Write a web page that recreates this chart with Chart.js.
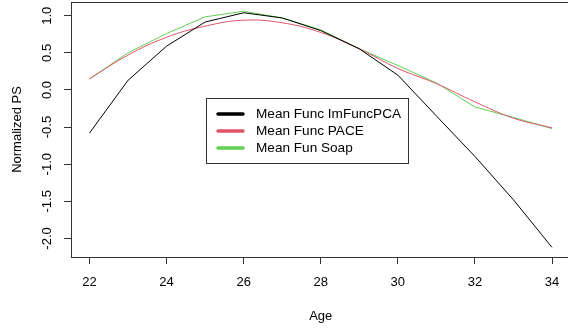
<!DOCTYPE html>
<html>
<head>
<meta charset="utf-8">
<script src="https://cdn.jsdelivr.net/npm/chart.js@4.4.1/dist/chart.umd.min.js"></script>
<style>
  html, body { margin: 0; padding: 0; background: #fff; overflow: hidden; }
  #wrap { width: 572px; height: 330px; }
</style>
</head>
<body>
<div id="wrap"><canvas id="chart" width="572" height="330"></canvas></div>
<script>
const ages = [22, 23, 24, 25, 26, 27, 28, 29, 30, 31, 32, 33, 34];
const imFuncPCA = [-0.58, 0.13, 0.59, 0.915, 1.04, 0.97, 0.80, 0.555, 0.20, -0.35, -0.895, -1.48, -2.12];
const pace = [0.15, 0.47, 0.71, 0.86, 0.94, 0.905, 0.775, 0.555, 0.29, 0.086, -0.16, -0.38, -0.51];
const soap = [0.15, 0.50, 0.76, 0.985, 1.06, 0.97, 0.81, 0.555, 0.33, 0.095, -0.23, -0.37, -0.52];

const FONT = '"Liberation Sans", Arial, Helvetica, sans-serif';

const toXY = (ys) => ys.map((y, i) => ({ x: ages[i], y: y }));

// box round the plot, rotated y labels and the legend, R style
const rStyle = {
  id: 'rStyle',
  afterDraw(chart) {
    const { ctx, chartArea: a, scales } = chart;
    ctx.save();
    ctx.strokeStyle = '#333';
    ctx.lineWidth = 1;
    ctx.strokeRect(Math.round(a.left) + 0.5, Math.round(a.top) + 0.5,
      Math.round(a.right - a.left), Math.round(a.bottom - a.top));

    ctx.fillStyle = '#000';
    ctx.font = '13px ' + FONT;
    ctx.textAlign = 'center';
    ctx.textBaseline = 'middle';
    scales.y.ticks.forEach((t) => {
      const py = scales.y.getPixelForValue(t.value);
      ctx.save();
      ctx.translate(47.5, py);
      ctx.rotate(-Math.PI / 2);
      ctx.fillText(t.value.toFixed(1), 0, 0);
      ctx.restore();
    });

    // legend
    const lx = 206, ly = 98, lw = 202, lh = 65;
    ctx.fillStyle = '#fff';
    ctx.fillRect(lx, ly, lw, lh);
    ctx.strokeStyle = '#333';
    ctx.strokeRect(lx + 0.5, ly + 0.5, lw, lh);
    ctx.font = '13.6px ' + FONT;
    ctx.textAlign = 'left';
    chart.data.datasets.forEach((ds, i) => {
      const ry = 114 + i * 17;
      ctx.strokeStyle = ds.borderColor;
      ctx.lineWidth = 3.5;
      ctx.lineCap = 'round';
      ctx.beginPath();
      ctx.moveTo(218, ry);
      ctx.lineTo(243, ry);
      ctx.stroke();
      ctx.fillStyle = '#000';
      ctx.fillText(ds.label, 256, ry + 0.5);
    });
    ctx.restore();
  }
};

new Chart(document.getElementById('chart'), {
  type: 'line',
  data: {
    datasets: [
      {
        label: 'Mean Func ImFuncPCA',
        data: toXY(imFuncPCA),
        borderColor: '#000000',
        borderWidth: 1,
        pointRadius: 0,
        tension: 0,
      },
      {
        label: 'Mean Func PACE',
        data: toXY(pace),
        borderColor: '#DF536B',
        borderWidth: 1,
        pointRadius: 0,
        tension: 0.4,
      },
      {
        label: 'Mean Fun Soap',
        data: toXY(soap),
        borderColor: '#61D04F',
        borderWidth: 1,
        pointRadius: 0,
        tension: 0,
      },
    ],
  },
  options: {
    responsive: false,
    animation: false,
    layout: { padding: { top: 2, right: 1.5, left: 0, bottom: 0 } },
    plugins: {
      legend: { display: false },
      tooltip: { enabled: false },
    },
    scales: {
      x: {
        type: 'linear',
        min: 21.52,
        max: 34.48,
        afterFit: (s) => { s.height = 73; },
        border: { display: false },
        grid: { drawOnChartArea: false, drawTicks: true, tickLength: 7, color: '#333' },
        ticks: {
          stepSize: 2,
          includeBounds: false,
          padding: 11,
          color: '#000',
          font: { family: FONT, size: 13 },
        },
        title: {
          display: true,
          text: 'Age',
          color: '#000',
          font: { family: FONT, size: 13 },
          padding: { top: 0, bottom: 6 },
        },
      },
      y: {
        min: -2.25,
        max: 1.185,
        afterFit: (s) => { s.width = 71; },
        border: { display: false },
        grid: { drawOnChartArea: false, drawTicks: true, tickLength: 7, color: '#333' },
        ticks: {
          stepSize: 0.5,
          includeBounds: false,
          display: false,
        },
        title: {
          display: true,
          text: 'Normalized PS',
          color: '#000',
          font: { family: FONT, size: 13 },
          padding: { top: 10, bottom: 0 },
        },
      },
    },
  },
  plugins: [rStyle],
});
</script>
</body>
</html>
